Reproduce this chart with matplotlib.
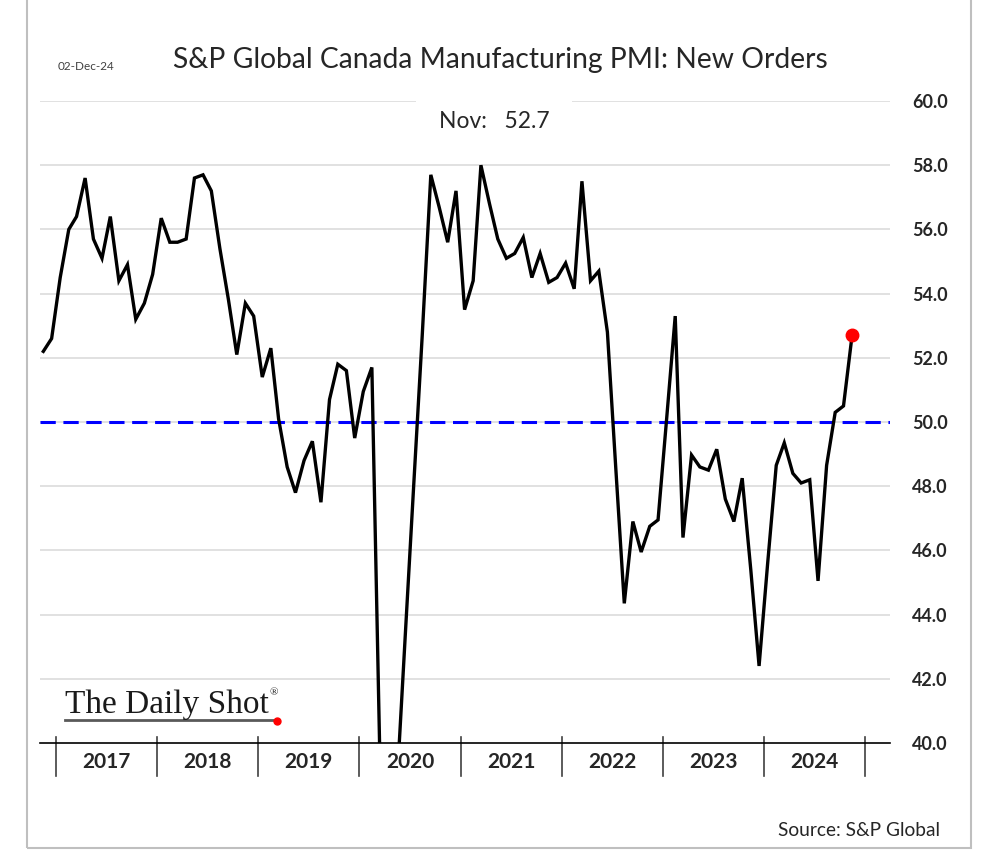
import numpy as np
import pandas as pd
import matplotlib
matplotlib.use('Agg')
import matplotlib.pyplot as plt
import matplotlib.transforms as mtransforms
from matplotlib.patches import Rectangle

# monthly new orders index, Nov 2016 .. Nov 2024
start_month = '2016-11-01'
new_orders = [
    52.2, 52.6,
    54.5, 56.0, 56.4, 57.6, 55.7, 55.1, 56.4, 54.4, 54.9, 53.2, 53.7, 54.6,      # 2017
    56.35, 55.6, 55.6, 55.7, 57.6, 57.7, 57.2, 55.4, 53.8, 52.1, 53.7, 53.3,     # 2018
    51.4, 52.3, 50.1, 48.6, 47.8, 48.8, 49.4, 47.5, 50.7, 51.8, 51.6, 49.5,      # 2019
    50.95, 51.7, 39.5, 25.0, 38.6, 43.4, 48.0, 52.7, 57.7, 56.7, 55.6, 57.2,     # 2020
    53.5, 54.4, 58.0, 56.8, 55.7, 55.1, 55.25, 55.75, 54.5, 55.25, 54.35, 54.5,  # 2021
    54.95, 54.15, 57.5, 54.4, 54.7, 52.8, 48.6, 44.35, 46.9, 45.95, 46.75, 46.95,  # 2022
    50.1, 53.3, 46.4, 48.97, 48.6, 48.5, 49.15, 47.6, 46.9, 48.25, 45.4, 42.4,   # 2023
    45.6, 48.65, 49.35, 48.4, 48.1, 48.2, 45.05, 48.65, 50.3, 50.5, 52.7,        # 2024
]
years = [2017, 2018, 2019, 2020, 2021, 2022, 2023, 2024]
y_ticks = [40, 42, 44, 46, 48, 50, 52, 54, 56, 58, 60]
threshold = 50.0

dates = pd.date_range(start_month, periods=len(new_orders), freq='MS') + pd.Timedelta(days=14)

W, H = 1000, 868
fig = plt.figure(figsize=(W / 100, H / 100), dpi=100)
fig.patch.set_facecolor('white')

def fx(px):
    return px / W

def fy(py):
    return 1 - py / H

# outer frame
fig.patches.append(Rectangle((fx(27), fy(848)), fx(971) - fx(27), fy(-5) - fy(848),
                             transform=fig.transFigure, fill=False,
                             edgecolor='#bfbfbf', linewidth=1.5))

ax = fig.add_axes([fx(40), fy(743), fx(890) - fx(40), fy(101) - fy(743)])
ax.set_facecolor('none')

ax.plot(dates, new_orders, color='black', linewidth=2.4, solid_joinstyle='miter', zorder=3)
ax.plot(dates[-1], new_orders[-1], 'o', color='#ff0000', markersize=9, zorder=4)
ax.axhline(threshold, color='#0000ff', linewidth=2.2, dashes=(5, 2.5), zorder=2)

ax.set_ylim(40, 60)
ax.set_xlim(pd.Timestamp('2016-11-03'), pd.Timestamp('2025-04-01'))

for v in y_ticks[1:]:
    ax.axhline(v, color='#dedede', linewidth=1.3, zorder=1)

for s in ['left', 'right', 'top']:
    ax.spines[s].set_visible(False)
ax.spines['bottom'].set_color('black')
ax.spines['bottom'].set_linewidth(1.2)

ax.yaxis.tick_right()
ax.set_yticks(y_ticks)
ax.set_yticklabels([f'{v:.1f}' for v in y_ticks], fontfamily='Lato', fontweight='bold',
                   fontsize=13, color='#262626')
ax.tick_params(axis='y', length=0, pad=16)

# year boundary ticks, drawn by hand so they poke above and below the axis line
ax.set_xticks([])
trans = mtransforms.blended_transform_factory(ax.transData, ax.transAxes)
for yr in years + [years[-1] + 1]:
    ax.plot([pd.Timestamp(f'{yr}-01-01')] * 2, [6 / 642, -33 / 642], color='#404040',
            linewidth=1.2, transform=trans, clip_on=False)
for yr in years:
    ax.text(pd.Timestamp(f'{yr}-07-02'), -19 / 642, str(yr), transform=trans,
            ha='center', va='center', fontfamily='Lato', fontweight='bold',
            fontsize=15, color='#262626')

# titles and notes
fig.text(fx(86), fy(66), '02-Dec-24', ha='center', va='center', fontfamily='Lato',
         fontsize=8.5, color='#404040')
fig.text(fx(500), fy(60), 'S&P Global Canada Manufacturing PMI: New Orders',
         ha='center', va='center', fontfamily='Lato', fontsize=20.3, color='#262626')
fig.text(fx(494), fy(122), 'Nov:   52.7', ha='center', va='center', fontfamily='Lato',
         fontsize=16.5, color='#262626',
         bbox=dict(facecolor='white', edgecolor='none', boxstyle='square,pad=1.0'))
fig.text(fx(940), fy(831), 'Source: S&P Global', ha='right', va='center',
         fontfamily='Lato', fontsize=13.8, color='#262626')

# logo
fig.text(fx(65), fy(705), 'The Daily Shot', ha='left', va='center',
         fontfamily='Liberation Serif', fontsize=24, color='#1a1a1a')
fig.text(fx(269), fy(693), '®', ha='left', va='center',
         fontfamily='Liberation Serif', fontsize=8, color='#1a1a1a')
fig.lines.append(plt.Line2D([fx(65), fx(274)], [fy(720), fy(720)], transform=fig.transFigure,
                            color='#595959', linewidth=2))
fig.lines.append(plt.Line2D([fx(277)], [fy(721)], transform=fig.transFigure, marker='o',
                            color='#ff0000', markersize=5, linestyle='none'))

fig.savefig('out.png', dpi=100, facecolor='white')
